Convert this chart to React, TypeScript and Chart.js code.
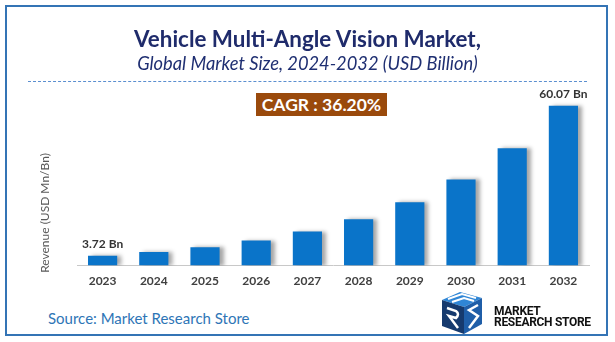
import React, { useEffect, useRef } from "react";
import { Chart, registerables } from "chart.js";

Chart.register(...registerables);

const years = ["2023", "2024", "2025", "2026", "2027", "2028", "2029", "2030", "2031", "2032"];
const revenue = [3.72, 5.07, 6.9, 9.4, 12.8, 17.44, 23.75, 32.35, 44.06, 60.07];
const labelledIndices = [0, 9];
const title = "Vehicle Multi-Angle Vision Market,";
const subtitle = "Global Market Size, 2024-2032 (USD Billion)";
const cagrText = "CAGR : 36.20%";
const yTitle = "Revenue (USD Mn/Bn)";
const sourceText = "Source: Market Research Store";

const FONT = "Lato, 'Open Sans', sans-serif";

export default function App() {
  const ref = useRef<HTMLCanvasElement | null>(null);

  useEffect(() => {
    document.body.style.margin = "0";
    const canvas = ref.current;
    if (!canvas) return;

    const shadowPlugin = {
      id: "barShadow",
      beforeDatasetsDraw(chart: any) {
        const ctx = chart.ctx;
        ctx.save();
        ctx.shadowColor = "rgba(0,0,0,0.35)";
        ctx.shadowOffsetX = 4;
        ctx.shadowOffsetY = 0;
        ctx.shadowBlur = 4;
      },
      afterDatasetsDraw(chart: any) {
        chart.ctx.restore();
      },
    };

    const labelPlugin = {
      id: "valueLabels",
      afterDraw(chart: any) {
        const ctx = chart.ctx;
        const meta = chart.getDatasetMeta(0);
        ctx.save();
        ctx.font = `bold 12px ${FONT}`;
        ctx.fillStyle = "#333333";
        ctx.textAlign = "center";
        ctx.textBaseline = "bottom";
        labelledIndices.forEach((i) => {
          const bar = meta.data[i];
          ctx.fillText(`${revenue[i]} Bn`, bar.x, bar.y - 6);
        });
        // y axis title
        ctx.translate(45, 213);
        ctx.rotate(-Math.PI / 2);
        ctx.font = `12px ${FONT}`;
        ctx.fillStyle = "#595959";
        ctx.textBaseline = "middle";
        ctx.fillText(yTitle, 0, 0);
        ctx.restore();
      },
    };

    const chart = new Chart(canvas, {
      type: "bar",
      data: {
        labels: years,
        datasets: [
          {
            data: revenue,
            backgroundColor: "#0a74c9",
            borderWidth: 0,
            barPercentage: 0.57,
            categoryPercentage: 1,
          },
        ],
      },
      options: {
        animation: false,
        responsive: false,
        maintainAspectRatio: false,
        layout: { padding: { left: 77, right: 26, top: 100, bottom: 4 } },
        plugins: {
          legend: { display: false },
          tooltip: { enabled: false },
          title: { display: false },
        },
        scales: {
          x: {
            grid: { display: false, drawTicks: false },
            border: { display: true, color: "#c8c8c8", width: 1 },
            ticks: {
              padding: 8,
              color: "#404040",
              font: { family: FONT, size: 12, weight: "bold" },
            },
          },
          y: {
            display: false,
            min: 0,
            max: 62.2,
          },
        },
      },
      plugins: [shadowPlugin, labelPlugin],
    });
    return () => chart.destroy();
  }, []);

  return (
    <div style={{ position: "absolute", left: 0, top: 0, width: 615, height: 342, background: "#fff", fontFamily: FONT }}>
      <div
        style={{
          position: "absolute",
          left: 5,
          top: 5,
          width: 603,
          height: 331,
          border: "2px solid #3474b5",
          boxSizing: "border-box",
        }}
      />
      <canvas ref={ref} width={615} height={300} style={{ position: "absolute", left: 0, top: 0 }} />
      <div
        style={{
          position: "absolute",
          left: 0,
          width: 615,
          top: 25,
          textAlign: "center",
          fontSize: 22.4,
          fontWeight: 700,
          color: "#1f2b6b",
          lineHeight: "28px",
        }}
      >
        {title}
      </div>
      <div
        style={{
          position: "absolute",
          left: 0,
          width: 615,
          top: 51,
          textAlign: "center",
          fontSize: 18.3,
          fontStyle: "italic",
          color: "#1f2f72",
          lineHeight: "24px",
        }}
      >
        {subtitle}
      </div>
      <div
        style={{
          position: "absolute",
          left: 28,
          top: 81,
          width: 559,
          height: 0,
          borderTop: "1px dashed #5b8fd0",
        }}
      />
      <div
        style={{
          position: "absolute",
          left: 256,
          top: 93,
          width: 131,
          height: 23,
          background: "#9a4a0c",
          color: "#fff",
          fontWeight: 700,
          fontSize: 17.5,
          lineHeight: "23px",
          textAlign: "center",
        }}
      >
        {cagrText}
      </div>
      <div
        style={{
          position: "absolute",
          left: 48,
          top: 308,
          fontSize: 15,
          color: "#2e75b6",
          lineHeight: "20px",
        }}
      >
        {sourceText}
      </div>
      <svg style={{ position: "absolute", left: 438, top: 290 }} width={52} height={46} viewBox="0 0 52 46">
        <polygon points="4,10 22,2 44,8 26,17" fill="#2f86d6" />
        <polygon points="4,10 26,17 26,44 4,36" fill="#163a6e" />
        <polygon points="26,17 44,8 44,34 26,44" fill="#1f5ea8" />
        <polyline points="10,9 24,4 38,8" stroke="#fff" strokeWidth={2} fill="none" />
        <polyline points="14,12 26,8 36,11" stroke="#fff" strokeWidth={2} fill="none" />
        <path d="M9,18 L18,21 Q22,24 18,28 L11,26 L20,38" stroke="#fff" strokeWidth={2.5} fill="none" />
        <path d="M40,15 L31,20 L40,26 L31,38" stroke="#fff" strokeWidth={2.5} fill="none" />
      </svg>
      <div
        style={{
          position: "absolute",
          left: 494,
          top: 306,
          fontFamily: "Roboto, sans-serif",
          fontWeight: 700,
          fontSize: 12,
          lineHeight: "11px",
          color: "#111",
          letterSpacing: -0.3,
        }}
      >
        <div>MARKET</div>
        <div>RESEARCH STORE</div>
      </div>
    </div>
  );
}
